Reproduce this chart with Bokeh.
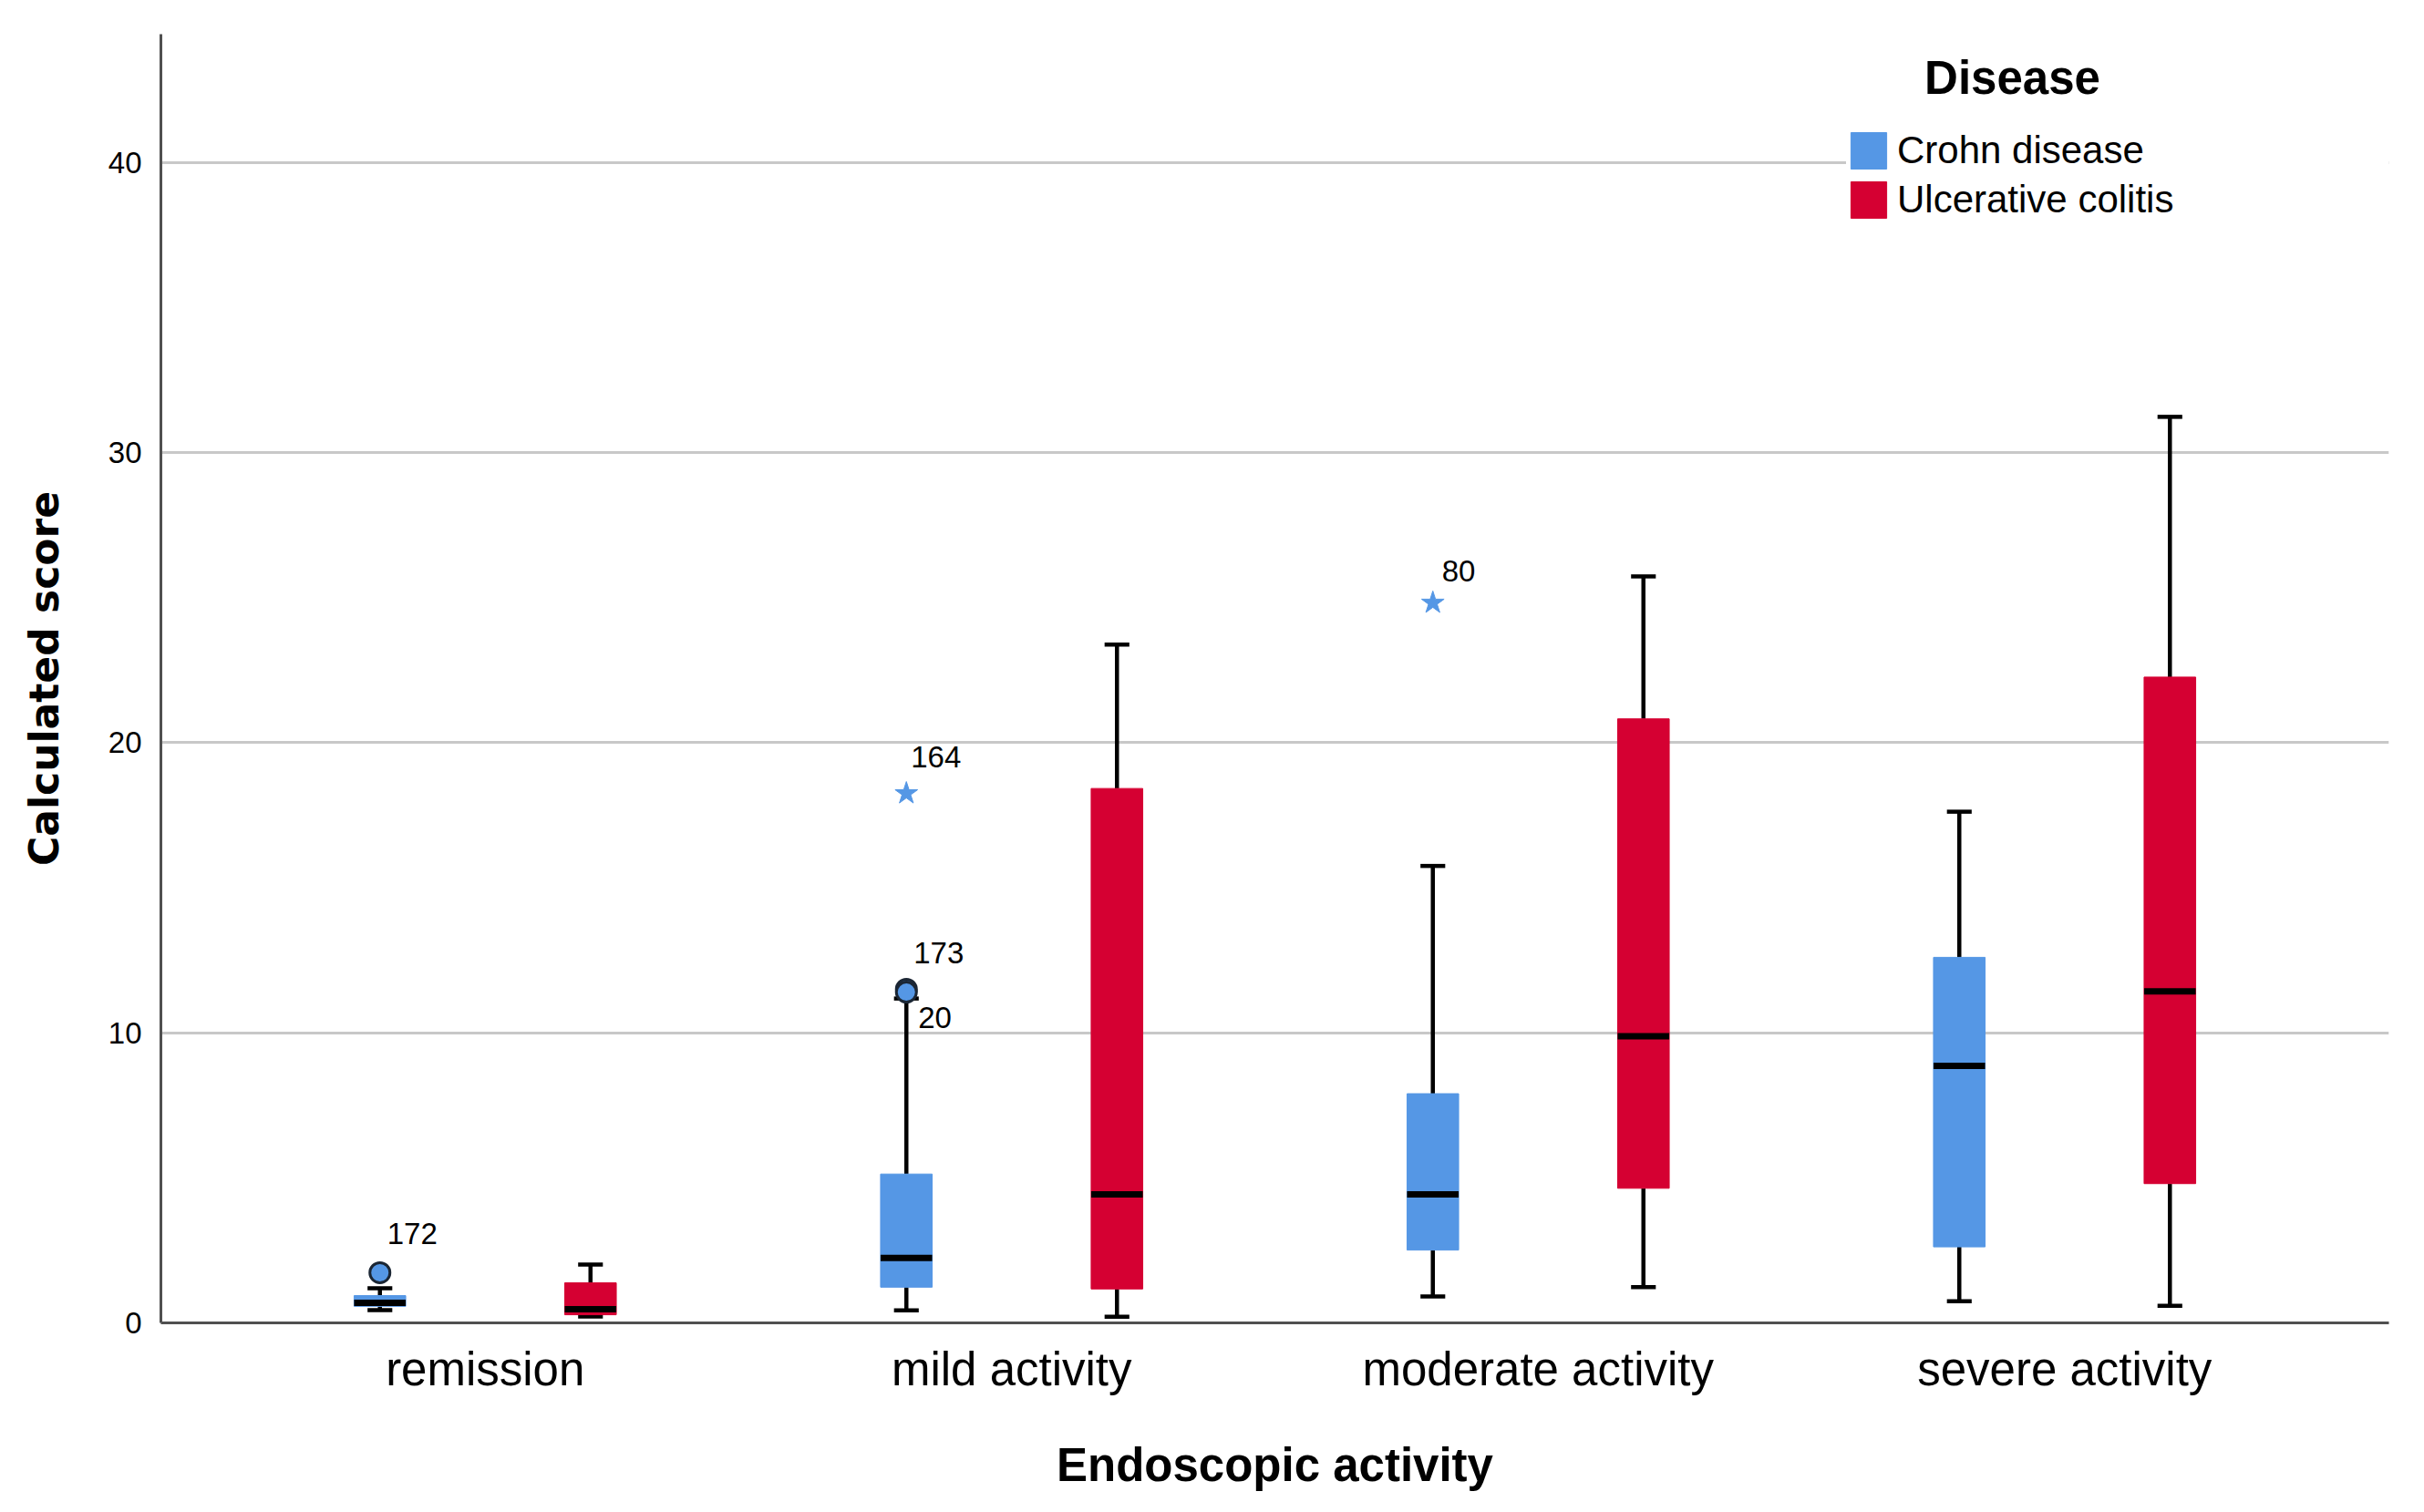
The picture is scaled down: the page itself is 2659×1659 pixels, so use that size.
from bokeh.plotting import figure
from bokeh.models import ColumnDataSource, FixedTicker, Legend, LegendItem, Label
from bokeh.embed import file_html
from bokeh.resources import INLINE
from bokeh.core.properties import value

# ---------------- data ----------------
categories = ["remission", "mild activity", "moderate activity", "severe activity"]
groups = ["Crohn disease", "Ulcerative colitis"]

crohn_low = [0.44, 0.43, 0.91, 0.75]
crohn_q1 = [0.57, 1.23, 2.51, 2.62]
crohn_med = [0.69, 2.24, 4.43, 8.86]
crohn_q3 = [0.94, 5.13, 7.90, 12.60]
crohn_high = [1.19, 11.18, 15.75, 17.62]

uc_low = [0.22, 0.21, 1.23, 0.59]
uc_q1 = [0.28, 1.17, 4.64, 4.80]
uc_med = [0.47, 4.43, 9.88, 11.43]
uc_q3 = [1.38, 18.42, 20.82, 22.26]
uc_high = [2.01, 23.38, 25.73, 31.23]

outlier_cat = ["remission", "mild activity", "mild activity"]
outlier_val = [1.73, 11.50, 11.40]
outlier_id = ["172", "173", "20"]

extreme_cat = ["mild activity", "moderate activity"]
extreme_val = [18.25, 24.82]
extreme_id = ["164", "80"]

y_ticks = [0, 10, 20, 30, 40]
grid_ticks = [10, 20, 30, 40]

# ---------------- style ----------------
BLUE = "#5597E5"
RED = "#D50032"
FONT = "Liberation Sans"
group_offset = {"Crohn disease": -0.2, "Ulcerative colitis": 0.2}
group_color = {"Crohn disease": BLUE, "Ulcerative colitis": RED}
box_w = 0.098
cap_w = 0.047
outlier_dx = [8, 8, 13]
outlier_dy = [-43, -40, 28]
extreme_dx = [5, 10]
extreme_dy = [-40, -35]

X_START, X_END = 0.384, 4.616
Y_START, Y_END = 0, 44.42
FW, FH = 2444, 1414

p = figure(
    frame_width=FW, frame_height=FH,
    x_range=(X_START, X_END), y_range=(Y_START, Y_END),
    output_backend="svg", toolbar_location=None,
    min_border_left=176, min_border_right=23, min_border_top=37, min_border_bottom=192,
)
p.outline_line_color = None
p.background_fill_color = "white"
p.border_fill_color = "white"

cat_pos = {c: i + 1 for i, c in enumerate(categories)}

series = {
    "Crohn disease": (crohn_low, crohn_q1, crohn_med, crohn_q3, crohn_high),
    "Ulcerative colitis": (uc_low, uc_q1, uc_med, uc_q3, uc_high),
}

box_renderers = {}
for g in groups:
    low, q1, med, q3, high = series[g]
    xs = [cat_pos[c] + group_offset[g] for c in categories]
    src = ColumnDataSource(dict(
        x=xs, low=low, q1=q1, med=med, q3=q3, high=high,
        xl=[x - box_w / 2 for x in xs], xr=[x + box_w / 2 for x in xs],
        cl=[x - cap_w / 2 for x in xs], cr=[x + cap_w / 2 for x in xs],
    ))
    # whiskers
    p.segment(x0="x", x1="x", y0="q3", y1="high", source=src, line_color="black", line_width=4.5)
    p.segment(x0="x", x1="x", y0="low", y1="q1", source=src, line_color="black", line_width=4.5)
    # caps
    p.segment(x0="cl", x1="cr", y0="high", y1="high", source=src, line_color="black", line_width=4.5)
    p.segment(x0="cl", x1="cr", y0="low", y1="low", source=src, line_color="black", line_width=4.5)
    # box
    r = p.vbar(x="x", width=box_w, bottom="q1", top="q3", source=src,
               fill_color=group_color[g], line_color=group_color[g], line_width=1)
    box_renderers[g] = r
    # median
    p.segment(x0="xl", x1="xr", y0="med", y1="med", source=src, line_color="black", line_width=7)

# outliers (circles)
osrc = ColumnDataSource(dict(
    x=[cat_pos[c] + group_offset["Crohn disease"] for c in outlier_cat],
    y=outlier_val, label=outlier_id, dx=outlier_dx, dy=outlier_dy,
))
p.scatter(x="x", y="y", source=osrc, marker="circle", size=22,
          fill_color=BLUE, line_color="#1b2634", line_width=3)
p.text(x="x", y="y", text="label", source=osrc, x_offset="dx", y_offset="dy",
       text_font=value(FONT), text_font_size="33px", text_color="black",
       text_align="left", text_baseline="alphabetic")

# extremes (stars)
esrc = ColumnDataSource(dict(
    x=[cat_pos[c] + group_offset["Crohn disease"] for c in extreme_cat],
    y=extreme_val, label=extreme_id, dx=extreme_dx, dy=extreme_dy,
))
p.scatter(x="x", y="y", source=esrc, marker="star", size=26,
          fill_color=BLUE, line_color=BLUE, line_width=1)
p.text(x="x", y="y", text="label", source=esrc, x_offset="dx", y_offset="dy",
       text_font=value(FONT), text_font_size="33px", text_color="black",
       text_align="left", text_baseline="alphabetic")

# ---------------- axes ----------------
AX_COLOR = "#505050"
p.yaxis.ticker = FixedTicker(ticks=y_ticks)
p.ygrid.ticker = FixedTicker(ticks=grid_ticks)
p.ygrid.grid_line_color = "#c8c8c8"
p.ygrid.grid_line_width = 3
p.xgrid.visible = False

p.xaxis.ticker = FixedTicker(ticks=[cat_pos[c] for c in categories])
p.xaxis.major_label_overrides = {cat_pos[c]: c for c in categories}

for ax in (p.xaxis, p.yaxis):
    ax.axis_line_color = AX_COLOR
    ax.axis_line_width = 3
    ax.major_tick_line_color = None
    ax.minor_tick_line_color = None
    ax.major_tick_out = 0
    ax.major_tick_in = 0
    ax.minor_tick_out = 0
    ax.major_label_text_color = "black"
    ax.major_label_text_font = FONT
    ax.axis_label_text_color = "black"
    ax.axis_label_text_font_style = "bold"

p.yaxis.major_label_text_font_size = "33px"
p.yaxis.major_label_standoff = 21
p.yaxis.axis_label = "Calculated score"
p.yaxis.axis_label_text_font = "DejaVu Sans"
p.yaxis.axis_label_text_font_size = "44px"
p.yaxis.axis_label_standoff = 42

p.xaxis.major_label_text_font_size = "51px"
p.xaxis.major_label_standoff = 22
p.xaxis.axis_label = "Endoscopic activity"
p.xaxis.axis_label_text_font = FONT
p.xaxis.axis_label_text_font_size = "51px"
p.xaxis.axis_label_standoff = 45

# ---------------- legend ----------------
legend = Legend(
    items=[LegendItem(label=g, renderers=[box_renderers[g]]) for g in groups],
    location=(1849, 1207),
    padding=7, margin=0, spacing=4,
    glyph_width=49, glyph_height=50, label_height=40, label_width=540,
    label_standoff=7,
    label_text_font=FONT, label_text_font_size="42px", label_text_color="black",
    background_fill_color="white", background_fill_alpha=1.0,
    border_line_color=None,
)
p.add_layout(legend)

px_per_x = FW / (X_END - X_START)
px_per_y = FH / (Y_END - Y_START)
title = Label(
    x=X_START + (2207 - 176) / px_per_x, y=(1451 - 85) / px_per_y,
    text="Disease", text_font=FONT, text_font_size="51px", text_font_style="bold",
    text_color="black", text_align="center", text_baseline="alphabetic",
)
p.add_layout(title)

open("out.html", "w").write(file_html(p, INLINE))
